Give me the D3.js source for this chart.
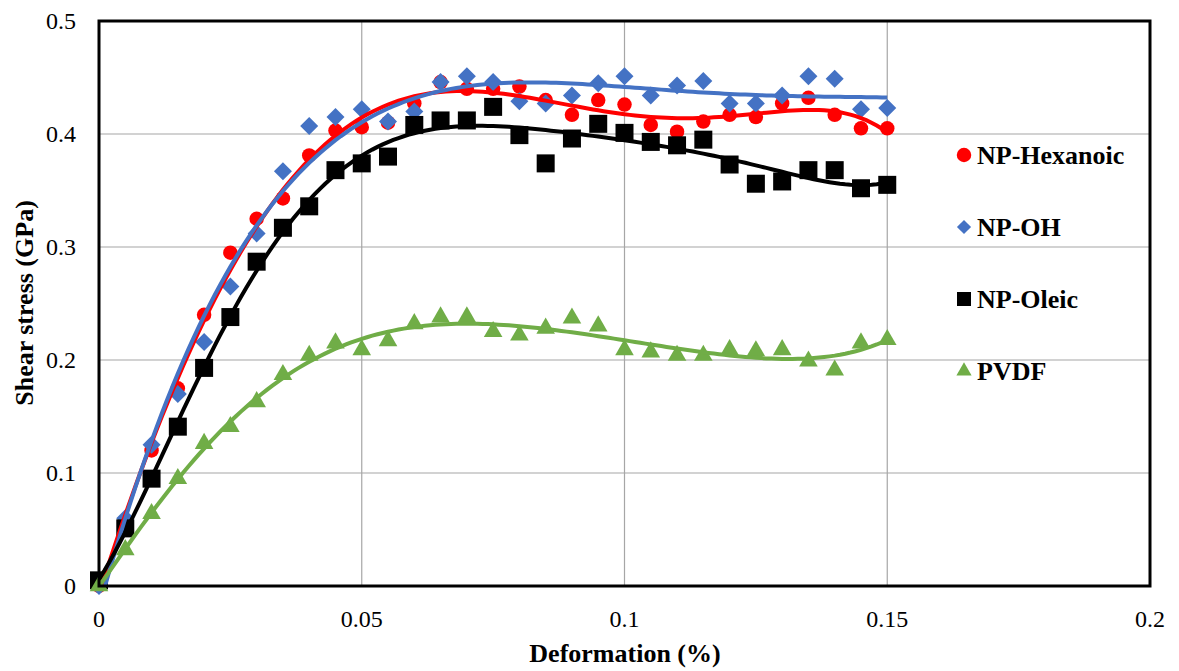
<!DOCTYPE html>
<html>
<head>
<meta charset="utf-8">
<script src="https://cdn.jsdelivr.net/npm/d3@7"></script>
<style>
  body { margin: 0; background: #fff; }
  text { font-family: 'Liberation Serif', 'Times New Roman', serif; }
</style>
</head>
<body>
<div id="chart"></div>
<script>
let deformation = d3.range(31).map(i => +(i * 0.005).toFixed(3))

let hexanoic = [0, 0.057, 0.12, 0.175, 0.24, 0.295, 0.325, 0.343, 0.381, 0.403, 0.406,
  0.41, 0.427, 0.446, 0.44, 0.44, 0.442, 0.43, 0.417, 0.43, 0.426,
  0.408, 0.402, 0.411, 0.417, 0.415, 0.427, 0.432, 0.417, 0.405, 0.405]
let npOH = [0, 0.06, 0.125, 0.17, 0.216, 0.265, 0.312, 0.367, 0.407, 0.415, 0.422,
  0.411, 0.42, 0.446, 0.451, 0.446, 0.429, 0.427, 0.434, 0.445, 0.451,
  0.434, 0.443, 0.447, 0.427, 0.427, 0.434, 0.451, 0.449, 0.422, 0.423]
let oleic = [0.005, 0.051, 0.095, 0.141, 0.193, 0.238, 0.287, 0.317, 0.336, 0.368, 0.374,
  0.38, 0.408, 0.412, 0.412, 0.424, 0.399, 0.374, 0.396, 0.409, 0.401,
  0.393, 0.39, 0.395, 0.373, 0.356, 0.358, 0.368, 0.368, 0.352, 0.355]
let pvdf = [0, 0.032, 0.064, 0.095, 0.126, 0.141, 0.163, 0.187, 0.204, 0.215, 0.209,
  0.217, 0.232, 0.238, 0.238, 0.225, 0.222, 0.228, 0.237, 0.23, 0.209,
  0.207, 0.204, 0.204, 0.209, 0.208, 0.209, 0.199, 0.191, 0.215, 0.218]

let seriesNames = ['NP-Hexanoic', 'NP-OH', 'NP-Oleic', 'PVDF']
let seriesColors = ['#ff0000', '#4472c4', '#000000', '#70ad47']
let seriesShapes = ['circle', 'diamond', 'square', 'triangle']
let trendOrder = [6, 4, 6, 6]
let xTicks = [0, 0.05, 0.1, 0.15, 0.2]
let yTicks = [0, 0.1, 0.2, 0.3, 0.4, 0.5]

let W = 1179
let H = 671
let plot = { left: 99, right: 1150, top: 21, bottom: 586 }

let svg = d3.select('#chart').append('svg').attr('width', W).attr('height', H)

svg.append('clipPath').attr('id', 'plot-clip')
  .append('rect')
  .attr('x', plot.left).attr('y', plot.top)
  .attr('width', plot.right - plot.left).attr('height', plot.bottom - plot.top)

let xPositionScale = d3.scaleLinear().domain([0, 0.2]).range([plot.left, plot.right])
let yPositionScale = d3.scaleLinear().domain([0, 0.5]).range([plot.bottom, plot.top])

// gridlines
svg.append('g').selectAll('line').data(yTicks.slice(1, -1)).enter().append('line')
  .attr('x1', plot.left).attr('x2', plot.right)
  .attr('y1', d => yPositionScale(d)).attr('y2', d => yPositionScale(d))
  .attr('stroke', '#a6a6a6').attr('stroke-width', 1.2)
svg.append('g').selectAll('line').data(xTicks.slice(1, -1)).enter().append('line')
  .attr('y1', plot.top).attr('y2', plot.bottom)
  .attr('x1', d => xPositionScale(d)).attr('x2', d => xPositionScale(d))
  .attr('stroke', '#a6a6a6').attr('stroke-width', 1.2)

// polynomial least squares trendline (like excel)
function polyFit(xs, ys, deg) {
  let s = 0.15
  let n = deg + 1
  let A = d3.range(n).map(() => d3.range(n + 1).map(() => 0))
  xs.forEach((x, k) => {
    let t = x / s
    for (let i = 0; i < n; i++) {
      for (let j = 0; j < n; j++) A[i][j] += Math.pow(t, i + j)
      A[i][n] += ys[k] * Math.pow(t, i)
    }
  })
  for (let c = 0; c < n; c++) {
    let p = c
    for (let r = c + 1; r < n; r++) if (Math.abs(A[r][c]) > Math.abs(A[p][c])) p = r
    let tmp = A[c]; A[c] = A[p]; A[p] = tmp
    for (let r = 0; r < n; r++) {
      if (r === c) continue
      let f = A[r][c] / A[c][c]
      for (let k = c; k <= n; k++) A[r][k] -= f * A[c][k]
    }
  }
  let coef = d3.range(n).map(i => A[i][n] / A[i][i])
  return x => coef.reduce((acc, c, i) => acc + c * Math.pow(x / s, i), 0)
}

let allSeries = [hexanoic, npOH, oleic, pvdf].map((vals, i) => ({
  name: seriesNames[i],
  color: seriesColors[i],
  shape: seriesShapes[i],
  order: trendOrder[i],
  values: vals.map((v, j) => ({ x: deformation[j], y: v }))
}))

function symbolPath(shape, big) {
  if (shape === 'circle') return d3.symbol(d3.symbolCircle, 165)()
  if (shape === 'diamond') return d3.symbol(d3.symbolSquare, big ? 162 : 100)()
  if (shape === 'square') return d3.symbol(d3.symbolSquare, big ? 324 : 196)()
  return d3.symbol(d3.symbolTriangle, big ? 150 : 100)()
}
function symbolRotate(shape) {
  return shape === 'diamond' ? ' rotate(45)' : ''
}

let line = d3.line()
  .x(d => xPositionScale(d.x))
  .y(d => yPositionScale(d.y))

let fitXs = d3.range(0, 151).map(i => i * 0.001)

allSeries.forEach(s => {
  let g = svg.append('g')
  g.selectAll('.pt').data(s.values).enter().append('path')
    .attr('class', 'pt')
    .attr('d', symbolPath(s.shape, true))
    .attr('transform', d => 'translate(' + xPositionScale(d.x) + ',' + yPositionScale(d.y) + ')' + symbolRotate(s.shape))
    .attr('fill', s.color)
})

let trendGroup = svg.append('g').attr('clip-path', 'url(#plot-clip)')
allSeries.forEach(s => {
  let f = polyFit(s.values.map(d => d.x), s.values.map(d => d.y), s.order)
  trendGroup.append('path')
    .datum(fitXs.map(x => ({ x: x, y: f(x) })))
    .attr('d', line)
    .attr('fill', 'none')
    .attr('stroke', s.color)
    .attr('stroke-width', 4)
})

// plot border
svg.append('rect')
  .attr('x', plot.left).attr('y', plot.top)
  .attr('width', plot.right - plot.left).attr('height', plot.bottom - plot.top)
  .attr('fill', 'none').attr('stroke', '#000').attr('stroke-width', 3)

// tick labels
svg.append('g').selectAll('text').data(yTicks).enter().append('text')
  .attr('x', 76).attr('y', d => yPositionScale(d)).attr('dy', '0.35em')
  .attr('text-anchor', 'end').attr('font-size', 24)
  .text(d => d)
svg.append('g').selectAll('text').data(xTicks).enter().append('text')
  .attr('x', d => xPositionScale(d)).attr('y', 627)
  .attr('text-anchor', 'middle').attr('font-size', 24)
  .text(d => d)

svg.append('text')
  .attr('x', 625).attr('y', 662)
  .attr('text-anchor', 'middle').attr('font-size', 26).attr('font-weight', 'bold')
  .text('Deformation (%)')
svg.append('text')
  .attr('transform', 'translate(33,303) rotate(-90)')
  .attr('text-anchor', 'middle').attr('font-size', 26).attr('font-weight', 'bold')
  .text('Shear stress (GPa)')

// legend
let legend = svg.append('g').selectAll('g').data(allSeries).enter().append('g')
  .attr('transform', (d, i) => 'translate(964,' + (155 + i * 72) + ')')
legend.append('path')
  .attr('d', d => symbolPath(d.shape, false))
  .attr('transform', d => symbolRotate(d.shape))
  .attr('fill', d => d.color)
legend.append('text')
  .attr('x', 13).attr('dy', '0.33em')
  .attr('font-size', 26).attr('font-weight', 'bold')
  .text(d => d.name)
</script>
</body>
</html>
